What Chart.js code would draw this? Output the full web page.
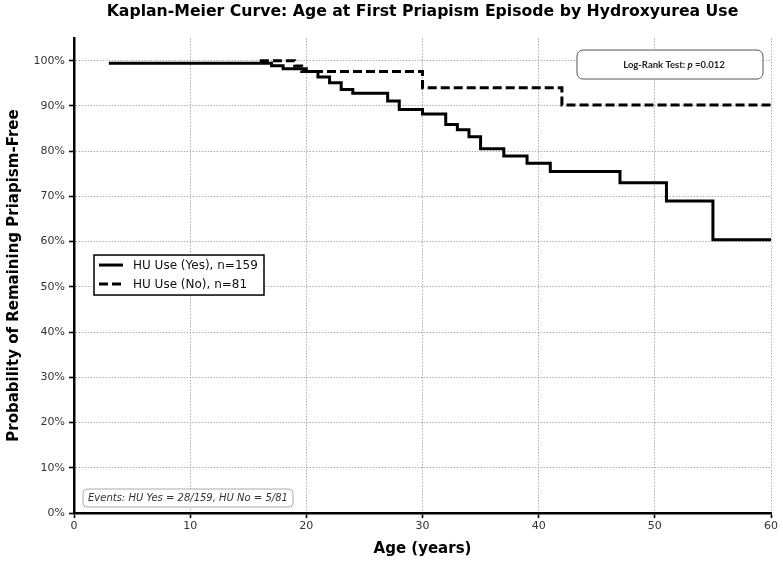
<!DOCTYPE html>
<html>
<head>
<meta charset="utf-8">
<script src="https://cdn.jsdelivr.net/npm/chart.js@4.4.1/dist/chart.umd.min.js"></script>
<style>
  html, body { margin: 0; padding: 0; background: #fff; }
  #wrap { width: 783px; height: 562px; }
</style>
</head>
<body>
<div id="wrap"><canvas id="kmChart" width="783" height="562"></canvas></div>
<script>
// Kaplan-Meier steps (age in years, % priapism-free)
const ageYes  = [3, 17, 18, 20, 21, 22, 23, 24, 27, 28, 30, 32, 33, 34, 35, 37, 39, 41, 47, 51, 55, 60];
const survYes = [99.4, 98.9, 98.2, 97.6, 96.4, 95.1, 93.6, 92.8, 91.1, 89.2, 88.2, 85.9, 84.7, 83.2, 80.5, 78.9, 77.3, 75.5, 73.0, 69.0, 60.4, 60.4];
const ageNo   = [16, 19, 19.6, 30, 42, 60];
const survNo  = [100, 98.8, 97.6, 94.0, 90.2, 90.2];

const xTicks = [0, 10, 20, 30, 40, 50, 60];
const legendLabels = ['HU Use (Yes), n=159', 'HU Use (No), n=81'];
const logRankText = ['Log-Rank Test: ', 'p', ' =0.012'];
const eventsText = 'Events: HU Yes = 28/159, HU No = 5/81';

function toPoints(xs, ys) {
  return xs.map((x, i) => ({ x: x, y: ys[i] }));
}

function roundRect(ctx, x, y, w, h, r) {
  ctx.beginPath();
  ctx.moveTo(x + r, y);
  ctx.lineTo(x + w - r, y);
  ctx.arcTo(x + w, y, x + w, y + r, r);
  ctx.lineTo(x + w, y + h - r);
  ctx.arcTo(x + w, y + h, x + w - r, y + h, r);
  ctx.lineTo(x + r, y + h);
  ctx.arcTo(x, y + h, x, y + h - r, r);
  ctx.lineTo(x, y + r);
  ctx.arcTo(x, y, x + r, y, r);
  ctx.closePath();
}

// legend and the two text boxes inside the plot
const boxesPlugin = {
  id: 'boxes',
  afterDraw(chart) {
    const ctx = chart.ctx;
    const ca = chart.chartArea;
    ctx.save();

    // log-rank box (top right)
    let bx = ca.right - 194, by = ca.top + 12, bw = 186, bh = 29;
    roundRect(ctx, bx, by, bw, bh, 6);
    ctx.fillStyle = '#fff';
    ctx.fill();
    ctx.lineWidth = 1;
    ctx.strokeStyle = '#555';
    ctx.stroke();
    const fonts = ['bold 9.5px Lato', 'bold italic 9.5px Lato', 'bold 9.5px Lato'];
    let total = 0;
    logRankText.forEach((t, i) => { ctx.font = fonts[i]; total += ctx.measureText(t).width; });
    let tx = bx + bw / 2 - total / 2 + 4;
    ctx.fillStyle = '#222';
    ctx.textBaseline = 'middle';
    ctx.textAlign = 'left';
    logRankText.forEach((t, i) => {
      ctx.font = fonts[i];
      ctx.fillText(t, tx, by + bh / 2 + 0.5);
      tx += ctx.measureText(t).width;
    });

    // legend (left middle)
    const lx = ca.left + 20, ly = ca.top + 217, lw = 170, lh = 40;
    ctx.fillStyle = '#fff';
    ctx.fillRect(lx, ly, lw, lh);
    ctx.lineWidth = 1.5;
    ctx.strokeStyle = '#000';
    ctx.strokeRect(lx, ly, lw, lh);
    ctx.font = '12px "DejaVu Sans"';
    legendLabels.forEach((label, i) => {
      const yy = ly + 10 + i * 19;
      ctx.beginPath();
      ctx.setLineDash(i === 0 ? [] : [9, 4]);
      ctx.lineWidth = 3;
      ctx.moveTo(lx + 5, yy);
      ctx.lineTo(lx + 29, yy);
      ctx.stroke();
      ctx.setLineDash([]);
      ctx.fillStyle = '#111';
      ctx.fillText(label, lx + 39, yy + 1);
    });

    // events box (bottom left)
    const ex = ca.left + 9, ey = ca.bottom - 24, ew = 210, eh = 18;
    roundRect(ctx, ex, ey, ew, eh, 4);
    ctx.fillStyle = '#fff';
    ctx.fill();
    ctx.lineWidth = 1;
    ctx.strokeStyle = '#aaa';
    ctx.stroke();
    ctx.font = 'italic 10px "DejaVu Sans"';
    ctx.fillStyle = '#333';
    ctx.fillText(eventsText, ex + 5, ey + eh / 2 + 0.5);

    ctx.restore();
  }
};

const gridCommon = {
  color: '#999',
  lineWidth: 0.8,
  tickLength: 5,
  tickColor: '#000',
  tickWidth: 1.6,
  tickBorderDash: []
};

new Chart(document.getElementById('kmChart'), {
  type: 'line',
  data: {
    datasets: [
      {
        label: legendLabels[0],
        data: toPoints(ageYes, survYes),
        borderColor: '#000',
        borderWidth: 3,
        stepped: 'before',
        pointRadius: 0,
        fill: false
      },
      {
        label: legendLabels[1],
        data: toPoints(ageNo, survNo),
        borderColor: '#000',
        borderWidth: 3,
        borderDash: [9, 4],
        stepped: 'before',
        pointRadius: 0,
        fill: false
      }
    ]
  },
  options: {
    responsive: false,
    animation: false,
    layout: { padding: { right: 12 } },
    plugins: {
      legend: { display: false },
      tooltip: { enabled: false },
      title: {
        display: true,
        text: 'Kaplan-Meier Curve: Age at First Priapism Episode by Hydroxyurea Use',
        fullSize: false,
        color: '#000',
        font: { family: 'DejaVu Sans', size: 15.7, weight: 'bold', lineHeight: 1.2 },
        padding: { top: 3, bottom: 16.2 }
      }
    },
    scales: {
      x: {
        type: 'linear',
        min: 0,
        max: 60,
        afterBuildTicks: (scale) => { scale.ticks = xTicks.map(v => ({ value: v })); },
        afterFit: (scale) => { scale.height = 49; },
        ticks: {
          color: '#333',
          padding: 2,
          maxRotation: 0,
          font: { family: 'DejaVu Sans', size: 11 }
        },
        grid: gridCommon,
        border: { display: true, color: '#000', width: 2.5, dash: [1.5, 1.5] },
        title: {
          display: true,
          text: 'Age (years)',
          color: '#000',
          font: { family: 'DejaVu Sans', size: 15, weight: 'bold', lineHeight: 1.2 },
          padding: { top: 0, bottom: 4 }
        }
      },
      y: {
        min: 0,
        max: 105,
        afterFit: (scale) => { scale.width = 74; },
        ticks: {
          stepSize: 10,
          includeBounds: false,
          color: '#333',
          padding: 4,
          font: { family: 'DejaVu Sans', size: 11 },
          callback: (v) => v + '%'
        },
        grid: gridCommon,
        border: { display: true, color: '#000', width: 2.5, dash: [1.5, 1.5] },
        title: {
          display: true,
          text: 'Probability of Remaining Priapism-Free',
          color: '#000',
          font: { family: 'DejaVu Sans', size: 15, weight: 'bold', lineHeight: 1.2 },
          padding: { top: 5, bottom: 0 }
        }
      }
    }
  },
  plugins: [boxesPlugin]
});
</script>
</body>
</html>
